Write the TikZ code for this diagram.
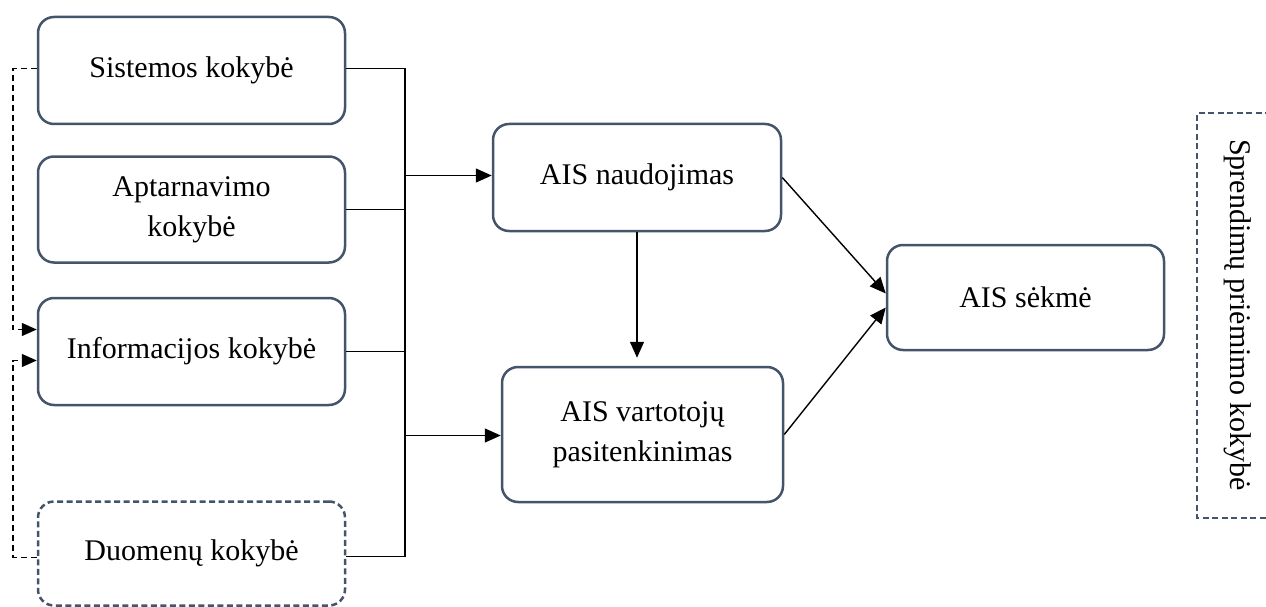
\documentclass[tikz,border=0pt]{standalone}
\usepackage{fontspec}
\setmainfont{Liberation Serif}
\usetikzlibrary{arrows.meta,calc}
\definecolor{boxline}{HTML}{44546A}
\tikzset{
  factor/.style={draw=boxline, line width=2.5pt, rounded corners=16pt, fill=white,
    align=center, inner sep=0pt, font=\fontsize{30}{40}\selectfont},
  dashedfactor/.style={factor, dash pattern=on 6pt off 3.5pt},
  link/.style={draw=black, line width=1.4pt},
  arrowlink/.style={link, -{Triangle[length=16pt, width=14pt]}},
  feedback/.style={draw=black, line width=1.4pt, dash pattern=on 6pt off 4pt},
  feedbackarrow/.style={feedback, -{Triangle[length=15pt, width=13pt]}}
}
\begin{document}
\begin{tikzpicture}[x=1pt, y=-1pt]
  \useasboundingbox (0,0) rectangle (1266,607);
  \clip (0,0) rectangle (1266,607);

  % quality factors on the left
  \node[factor, minimum width=307pt, minimum height=107pt] (sist) at (191.5,70.5) {Sistemos kokybė};
  \node[factor, minimum width=307pt, minimum height=106pt] (apt)  at (191.5,209.5) {Aptarnavimo\\kokybė};
  \node[factor, minimum width=307pt, minimum height=107pt] (info) at (191.5,351.5) {Informacijos kokybė};
  \node[dashedfactor, minimum width=307pt, minimum height=104pt] (duom) at (191.5,553.5) {Duomenų kokybė};

  % use, satisfaction and success
  \node[factor, minimum width=288pt, minimum height=107pt] (naud) at (637,177.5) {AIS naudojimas};
  \node[factor, minimum width=281pt, minimum height=135pt] (vart) at (642.5,434.5) {AIS vartotojų\\pasitenkinimas};
  \node[factor, minimum width=277pt, minimum height=105pt] (sek)  at (1025.5,297.5) {AIS sėkmė};

  % decision-making quality frame, open on the right
  \draw[draw=boxline, line width=2.2pt, dash pattern=on 6pt off 3.5pt]
    (1290,113) -- (1197,113) -- (1197,518) -- (1290,518);
  \node[rotate=-90, font=\fontsize{30}{40}\selectfont] (spr) at (1238,315) {Sprendimų priėmimo kokybė};

  % collecting bus
  \coordinate (bus) at (405,0);
  \draw[link] ($(sist.east)+(0,-2)$) -- ($(sist.east -| bus)+(0,-2)$);
  \draw[link] (apt.east)  -- (apt.east -| bus);
  \draw[link] (info.east) -- (info.east -| bus);
  \draw[link] ($(duom.east)+(0,3)$) -- ($(duom.east -| bus)+(0,3)$);
  \draw[link] ($(sist.east -| bus)+(0,-2)$) -- ($(duom.east -| bus)+(0,3)$);
  \draw[arrowlink] ($(bus |- naud.west)+(0,-2)$) -- ($(naud.west)+(0,-2)$);
  \draw[arrowlink] ($(bus |- vart.west)+(0,1)$) -- ($(vart.west)+(0,1)$);

  % relations between use, satisfaction and success
  \draw[arrowlink, shorten >=8pt] (naud.south) -- (naud.south |- vart.north);
  \draw[arrowlink] (naud.east) -- ($(sek.west)+(0,-4)$);
  \draw[arrowlink] (vart.east) -- ($(sek.west)+(0,10)$);

  % dashed feedback to information quality
  \coordinate (fb) at (13,0);
  \coordinate (infoin1) at ($(info.west)+(0,-22)$);
  \coordinate (infoin2) at ($(info.west)+(0,9)$);
  \draw[feedbackarrow] ($(sist.west)+(0,-2)$) -| (fb |- infoin1) -- (infoin1);
  \draw[feedbackarrow] ($(duom.west)+(0,4)$) -| (fb |- infoin2) -- (infoin2);
\end{tikzpicture}
\end{document}
